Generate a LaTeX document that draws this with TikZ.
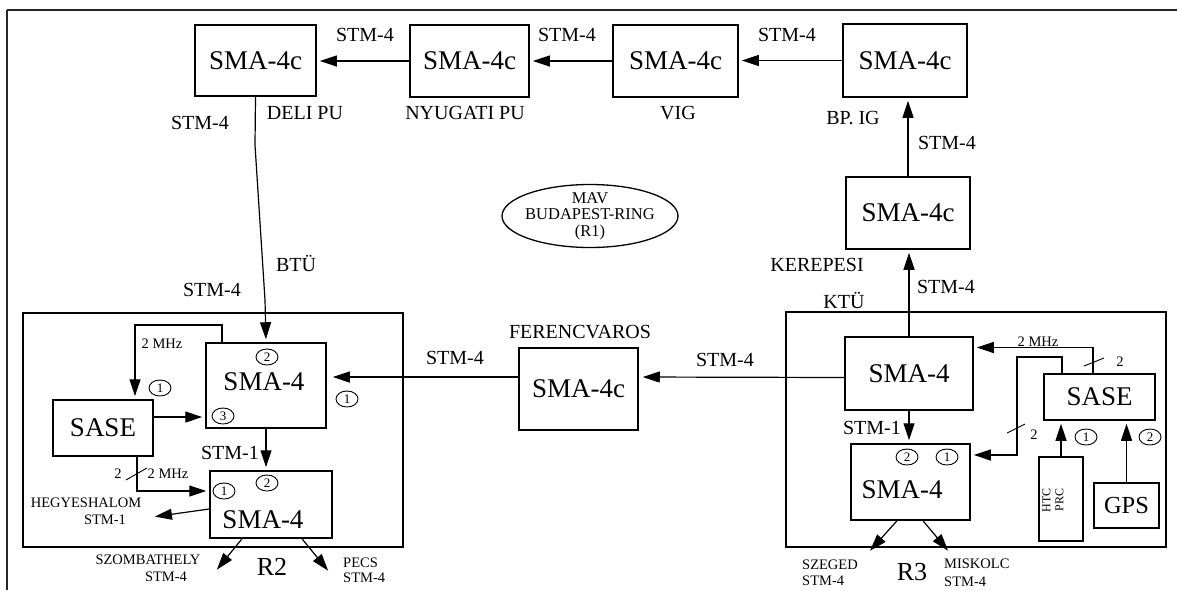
\documentclass[tikz,border=0pt]{standalone}
\usepackage{fontspec}
\setmainfont{Liberation Serif}
\usetikzlibrary{arrows.meta,shapes.geometric,calc}
\begin{document}
\begin{tikzpicture}[x=1pt,y=-1pt,
  box/.style={draw, line width=1.5pt, inner sep=0pt, font=\fontsize{27}{27}\selectfont},
  conn/.style={line width=1.2pt, -{Triangle[length=17pt,width=11pt]}, shorten >=3pt},
  plain/.style={line width=1.2pt},
  frame/.style={draw, line width=1.5pt, inner sep=0pt},
  lbl/.style={font=\fontsize{20}{20}\selectfont, inner sep=0pt},
  sml/.style={font=\fontsize{14.5}{14.5}\selectfont, inner sep=0pt},
  rlbl/.style={font=\fontsize{26}{26}\selectfont, inner sep=0pt},
  cnum/.style={ellipse, draw, line width=0.9pt, inner sep=0pt, minimum width=22pt, minimum height=16pt, font=\fontsize{13}{13}\selectfont},
  ring/.style={ellipse, draw, line width=1.3pt, inner sep=0pt, minimum width=176pt, minimum height=63pt}
]
\useasboundingbox (0,0) rectangle (1177,590);
% outer scan frame
\draw[line width=2pt, black!85] (7,10) -- (1177,10);
\draw[line width=2pt, black!85] (7,10) -- (7,590);

% top ring boxes
\node[box, minimum width=121pt, minimum height=71pt] (deli) at (255.5,60.5) {SMA-4c};
\node[box, minimum width=119pt, minimum height=72pt] (nyug) at (469.5,61) {SMA-4c};
\node[box, minimum width=125pt, minimum height=72pt] (vig) at (675.5,61) {SMA-4c};
\node[box, minimum width=124pt, minimum height=73pt] (bpig) at (905,60.5) {SMA-4c};
\node[box, minimum width=124pt, minimum height=72pt] (kerep) at (908,213) {SMA-4c};
\node[box, minimum width=119pt, minimum height=82pt] (ferenc) at (578.5,389) {SMA-4c};

\draw[conn] (nyug.west) -- (nyug.west -| deli.east);
\draw[conn] (vig.west) -- (vig.west -| nyug.east);
\draw[conn] (bpig.west) -- (bpig.west -| vig.east);
\draw[conn] (kerep.north) -- (kerep.north |- bpig.south);

\node[lbl] at (365,35) {STM-4};
\node[lbl] at (567,35) {STM-4};
\node[lbl] at (787,35) {STM-4};
\node[lbl] at (305,113) {DELI PU};
\node[lbl] at (465,113) {NYUGATI PU};
\node[lbl] at (678,113) {VIG};
\node[lbl] at (853,118) {BP. IG};
\node[lbl] at (947,143) {STM-4};
\node[lbl] at (817,265) {KEREPESI};
\node[lbl] at (946,287) {STM-4};
\node[lbl] at (844,300) {KTÜ};
\node[lbl] at (200,123) {STM-4};
\node[lbl] at (296,263) {BTÜ};
\node[lbl] at (212,290) {STM-4};
\node[lbl] at (580,332) {FERENCVAROS};
\node[lbl] at (455,358) {STM-4};
\node[lbl] at (725,360) {STM-4};

% ring label
\node[ring] (ring) at (590,216) {};
\node[font=\fontsize{16.5}{16.5}\selectfont, align=center, inner sep=0pt] (ringtext) at (ring.center) {MAV\\BUDAPEST-RING\\(R1)};

% ===== R2 =====
\node[frame, minimum width=380pt, minimum height=234pt] (r2frame) at (213,430) {};
\node[box, minimum width=120pt, minimum height=85pt] (r2a) at (266,385.5) {};
\node[font=\fontsize{27}{27}\selectfont, inner sep=0pt] (r2atext) at (264,382) {SMA-4};
\node[box, minimum width=100pt, minimum height=56pt] (sase2) at (103,428) {SASE};
\node[box, minimum width=122pt, minimum height=67pt] (r2b) at (271,504.5) {};
\node[font=\fontsize{27}{27}\selectfont, inner sep=0pt] (r2btext) at (263,520) {SMA-4};

\coordinate (b1) at (255,145);
\coordinate (b2) at (265,300);
\draw[conn] (deli.south) -- (b1) -- (b2) -- (r2a.north);

\coordinate (fw) at ([yshift=12pt]ferenc.west);
\draw[conn, shorten >=6pt] (fw) -- (r2a.east |- fw);

\coordinate (m2a) at (135,325);
\draw[conn] ([xshift=-44pt]r2a.north) |- (m2a) -- (m2a |- sase2.north);
\node[sml] at (162,344) {2 MHz};
\coordinate (s2e) at ([yshift=11pt]sase2.east);
\draw[conn] (s2e) -- (r2a.west |- s2e);
\draw[conn] (r2a.south) -- (r2a.south |- r2b.north);
\node[lbl] at (230,453) {STM-1};

\coordinate (s2b) at ([xshift=34pt]sase2.south);
\coordinate (r2bin) at ([yshift=13.5pt]r2b.west);
\draw[conn] (s2b) |- (r2bin);
\draw[plain, line width=0.9pt] (126,480) -- (147,468);
\node[sml] at (118,474) {2};
\node[sml] at (168,474) {2 MHz};

\coordinate (heg) at (152,517);
\draw[conn] ([yshift=-4.5pt]r2b.west) -- (heg);
\node[sml] at (86,503) {HEGYESHALOM};
\node[sml] at (105,520) {STM-1};

\coordinate (szb) at (215,572);
\coordinate (pec) at (330,573);
\draw[conn] ([xshift=-29pt]r2b.south) -- (szb);
\draw[conn] ([xshift=31pt]r2b.south) -- (pec);
\node[sml] at (148,560) {SZOMBATHELY};
\node[sml] at (166,577) {STM-4};
\node[rlbl] at (272,567) {R2};
\node[sml, anchor=west] at (343,563) {PECS};
\node[sml, anchor=west] at (343,578) {STM-4};

\node[cnum] at (267,357) {2};
\node[cnum] at (223,416) {3};
\node[cnum] at (347,399) {1};
\node[cnum] at (160,388) {1};
\node[cnum] at (224,491) {1};
\node[cnum] at (267,483) {2};

% ===== R3 =====
\node[frame, minimum width=380pt, minimum height=235pt] (r3frame) at (976,429.5) {};
\node[box, minimum width=128pt, minimum height=73pt] (r3a) at (909,373.5) {SMA-4};
\node[box, minimum width=119pt, minimum height=76pt] (r3b) at (910.5,482) {};
\node[font=\fontsize{27}{27}\selectfont, inner sep=0pt] (r3btext) at (902,490) {SMA-4};
\node[box, minimum width=111pt, minimum height=46pt] (sase3) at (1099.5,397) {SASE};
\node[box, minimum width=44pt, minimum height=84pt] (htc) at (1061,499) {};
\node[font=\fontsize{12}{13}\selectfont, align=center, inner sep=0pt, rotate=90] (htctext) at (1053,500) {HTC\\PRC};
\node[box, minimum width=65pt, minimum height=45pt, font=\fontsize{24.5}{24.5}\selectfont] (gps) at (1126.5,505.5) {GPS};

\draw[conn] (r3a.north) -- (r3a.north |- kerep.south);
\draw[conn, shorten >=4pt] ([yshift=-4pt]r3a.west) -- ([yshift=12pt]ferenc.east);
\draw[conn] (r3a.south) -- (r3a.south |- r3b.north);
\node[lbl] at (872,428) {STM-1};

\draw[conn] ([xshift=-6.5pt]sase3.north) |- ([yshift=26pt]r3a.east);
\node[sml] at (1038,342) {2 MHz};
\draw[plain, line width=0.9pt] (1084,366) -- (1104,358);
\node[sml] at (1120,362) {2};

\coordinate (j3) at (1017,357);
\draw[conn] ([xshift=-37.5pt]sase3.north) |- (j3) |- ([yshift=27pt]r3b.east);
\draw[plain, line width=0.9pt] (1007,433) -- (1025,424);
\node[sml] at (1034,435) {2};

\draw[conn] (htc.north) -- (htc.north |- sase3.south);
\draw[conn] (gps.north) -- (gps.north |- sase3.south);

\coordinate (sze) at (868,553);
\coordinate (mis) at (950,553);
\draw[conn] ([xshift=-13.5pt]r3b.south) -- (sze);
\draw[conn] ([xshift=12.5pt]r3b.south) -- (mis);
\node[sml, anchor=west] at (802,565) {SZEGED};
\node[sml, anchor=west] at (802,581) {STM-4};
\node[rlbl] at (912,572) {R3};
\node[sml, anchor=west] at (944,564) {MISKOLC};
\node[sml, anchor=west] at (944,581.5) {STM-4};

\node[cnum] at (907,457) {2};
\node[cnum] at (947,457) {1};
\node[cnum] at (1086,437) {1};
\node[cnum] at (1150,437) {2};
\end{tikzpicture}
\end{document}
